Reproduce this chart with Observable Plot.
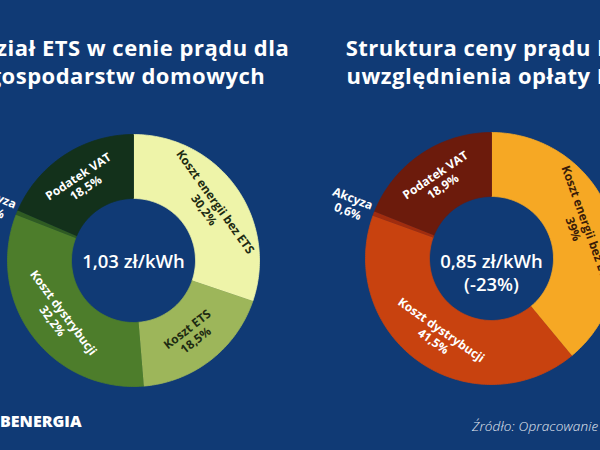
<!DOCTYPE html>
<html>
<head>
<meta charset="utf-8">
<script src="https://cdn.jsdelivr.net/npm/d3@7"></script>
<script src="https://cdn.jsdelivr.net/npm/@observablehq/plot@0.6"></script>
<style>
html, body { margin: 0; padding: 0; background: #103a75; }
#wrap { position: relative; width: 600px; height: 450px; overflow: hidden; background: #103a75; font-family: "Open Sans", sans-serif; }
#wrap svg { position: absolute; left: 0; top: 0; }
.title { position: absolute; top: 32.5px; width: 360px; text-align: center; color: #ffffff; font-weight: 700; font-size: 22px; line-height: 28px; letter-spacing: 0.5px; white-space: nowrap; }
.logo { position: absolute; left: 0; top: 413px; color: #ffffff; font-weight: 800; font-size: 16px; line-height: 16px; white-space: nowrap; }
.source { position: absolute; left: 472px; top: 420px; color: #e4eaf3; font-style: italic; font-weight: 300; font-size: 13.5px; line-height: 13.5px; letter-spacing: 0.2px; white-space: nowrap; }
</style>
</head>
<body>
<div id="wrap"></div>
<script>
// ---- data ----
const leftTitle = ["Udział ETS w cenie prądu dla", "gospodarstw domowych"];
const leftCategories = ["Koszt energii bez ETS", "Koszt ETS", "Koszt dystrybucji", "Akcyza", "Podatek VAT"];
const leftValues = [30.2, 18.5, 32.2, 0.6, 18.5];
const leftValueLabels = ["30,2%", "18,5%", "32,2%", "0,6%", "18,5%"];
const leftColors = ["#eef4a9", "#9db65a", "#4d7d2b", "#2f5b22", "#13311b"];
const leftTextColors = ["#1d2b12", "#1d2b12", "#ffffff", "#ffffff", "#ffffff"];
const leftTotal = "1,03 zł/kWh";

const rightTitle = ["Struktura ceny prądu bez", "uwzględnienia opłaty ETS"];
const rightCategories = ["Koszt energii bez ETS", "Koszt dystrybucji", "Akcyza", "Podatek VAT"];
const rightValues = [39, 41.5, 0.6, 18.9];
const rightValueLabels = ["39%", "41,5%", "0,6%", "18,9%"];
const rightColors = ["#f6a824", "#c8420f", "#a02c0e", "#6c1b0c"];
const rightTextColors = ["#3a1c08", "#ffffff", "#ffffff", "#ffffff"];
const rightTotal = "0,85 zł/kWh\n(-23%)";

const logoText = "BENERGIA";
const sourceText = "Źródło: Opracowanie własne";

// ---- layout ----
const W = 600, H = 450;
const R_OUT = 126, R_IN = 62, R_LABEL = 94, R_OUTSIDE = 151;
const charts = [
  {id: "L", cx: 133, cy: 260, titleCx: 127, totalDy: 0, title: leftTitle, categories: leftCategories, values: leftValues,
   valueLabels: leftValueLabels, colors: leftColors, textColors: leftTextColors, total: leftTotal},
  {id: "R", cx: 491, cy: 258, titleCx: 491, totalDy: 14, title: rightTitle, categories: rightCategories, values: rightValues,
   valueLabels: rightValueLabels, colors: rightColors, textColors: rightTextColors, total: rightTotal}
];

const arcPoints = [];
const labels = [];
const totals = [];
for (const ch of charts) {
  const sum = d3.sum(ch.values);
  let acc = 0;
  ch.categories.forEach((cat, i) => {
    const a0 = acc / sum * 2 * Math.PI;
    acc += ch.values[i];
    const a1 = acc / sum * 2 * Math.PI;
    const key = ch.id + i;
    const n = Math.max(2, Math.ceil((a1 - a0) / (Math.PI / 180)) + 1);
    const pos = (r, a) => ({x: ch.cx + r * Math.sin(a), y: ch.cy - r * Math.cos(a)});
    for (let k = 0; k < n; k++) {
      const a = a0 + (a1 - a0) * k / (n - 1);
      arcPoints.push({key, color: ch.colors[i], ...pos(R_OUT, a)});
    }
    for (let k = n - 1; k >= 0; k--) {
      const a = a0 + (a1 - a0) * k / (n - 1);
      arcPoints.push({key, color: ch.colors[i], ...pos(R_IN, a)});
    }
    const mid = (a0 + a1) / 2;
    const deg = mid * 180 / Math.PI;
    const outside = ch.values[i] / sum < 0.02;
    let rotate;
    if (outside) rotate = deg > 180 ? deg - 270 : deg - 90;
    else rotate = (deg > 90 && deg < 270) ? deg - 180 : (deg >= 270 ? deg - 360 : deg);
    const p = pos(outside ? R_OUTSIDE : R_LABEL, mid);
    labels.push({...p, rotate, text: cat + "\n" + ch.valueLabels[i], color: outside ? "#ffffff" : ch.textColors[i]});
  });
  totals.push({x: ch.cx, y: ch.cy + ch.totalDy, text: ch.total});
}

const plot = Plot.plot({
  width: W, height: H,
  margin: 0,
  x: {domain: [0, W], range: [0, W], axis: null},
  y: {domain: [0, H], range: [0, H], axis: null},
  color: {type: "identity"},
  style: {background: "transparent", overflow: "visible", fontFamily: "Open Sans, sans-serif"},
  marks: [
    Plot.line(arcPoints, {x: "x", y: "y", z: "key", fill: "color", stroke: "color", strokeWidth: 0.8, curve: "linear"}),
    Plot.text(labels, {x: "x", y: "y", text: "text", rotate: "rotate", fill: "color",
      fontSize: 12, fontWeight: 700, lineHeight: 1.15, textAnchor: "middle", lineAnchor: "middle"}),
    Plot.text(totals, {x: "x", y: "y", text: "text", fill: "#ffffff",
      fontSize: 18.5, fontWeight: 600, lineHeight: 1.25, textAnchor: "middle", lineAnchor: "middle"})
  ]
});

const wrap = document.getElementById("wrap");
wrap.appendChild(plot);

for (const ch of charts) {
  const t = document.createElement("div");
  t.className = "title";
  t.style.left = (ch.titleCx - 180) + "px";
  t.innerHTML = ch.title.join("<br>");
  wrap.appendChild(t);
}
const logo = document.createElement("div");
logo.className = "logo";
logo.textContent = logoText;
wrap.appendChild(logo);
const src = document.createElement("div");
src.className = "source";
src.textContent = sourceText;
wrap.appendChild(src);
</script>
</body>
</html>
